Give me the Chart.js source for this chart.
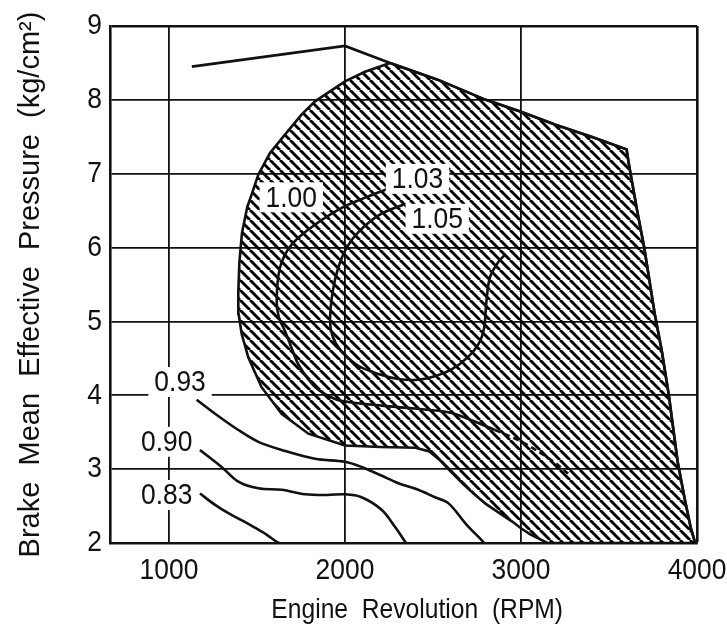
<!DOCTYPE html>
<html>
<head>
<meta charset="utf-8">
<script src="https://cdn.jsdelivr.net/npm/chart.js@4/dist/chart.umd.min.js"></script>
<style>
  html, body { margin: 0; padding: 0; background: #fff; }
  #c { display: block; }
</style>
</head>
<body>
<canvas id="c" width="727" height="630"></canvas>
<script>
// Axis ticks
const rpmTicks = [1000, 2000, 3000, 4000];
const bmepTicks = [2, 3, 4, 5, 6, 7, 8, 9];

// Full-load line [rpm, bmep]
const fullLoad = [[1130, 8.45], [2000, 8.73], [2256, 8.50], [2530, 8.27], [2800, 8.00], [3000, 7.84],
  [3200, 7.66], [3400, 7.50], [3600, 7.33], [3615, 7.10], [3660, 6.50], [3700, 6.00], [3760, 5.10],
  [3800, 4.60], [3840, 4.00], [3890, 3.10], [3930, 2.60], [3965, 2.20], [3990, 2.00]];

// Ratio contours [rpm, bmep]
const contour100 = [[2256, 8.50], [2114, 8.38], [2000, 8.25], [1830, 7.98], [1753, 7.80], [1659, 7.53],
  [1574, 7.28], [1508, 6.99], [1470, 6.72], [1445, 6.55], [1415, 6.20], [1400, 5.80], [1394, 5.40],
  [1396, 5.10], [1413, 4.83], [1451, 4.51], [1526, 4.11], [1640, 3.75], [1792, 3.48], [2000, 3.32],
  [2200, 3.30], [2400, 3.29], [2480, 3.24], [2540, 3.12], [2600, 2.97], [2670, 2.80], [2740, 2.65],
  [2800, 2.53], [2880, 2.40], [2950, 2.29], [3000, 2.20], [3050, 2.12], [3110, 2.05], [3150, 2.00]];
const contour103 = [[2236, 6.79], [2120, 6.68], [2000, 6.56], [1830, 6.31], [1697, 6.04], [1631, 5.73],
  [1612, 5.28], [1625, 5.05], [1659, 4.87], [1700, 4.62], [1735, 4.42], [1830, 4.11], [1943, 3.95],
  [2019, 3.91], [2208, 3.86], [2398, 3.82], [2587, 3.77], [2700, 3.68], [2852, 3.53], [3003, 3.37],
  [3174, 3.12], [3268, 2.94]];
const contour105 = [[2331, 6.58], [2200, 6.45], [2080, 6.22], [2010, 6.00], [1962, 5.73], [1930, 5.40],
  [1915, 5.00], [1930, 4.80], [1972, 4.62], [2076, 4.40], [2200, 4.28], [2303, 4.22], [2416, 4.21],
  [2500, 4.25], [2606, 4.35], [2700, 4.52], [2760, 4.70], [2790, 4.90], [2804, 5.28], [2824, 5.60],
  [2870, 5.80], [2912, 5.91]];
const contour093 = [[1157, 3.94], [1262, 3.75], [1394, 3.53], [1508, 3.37], [1640, 3.26], [1830, 3.14],
  [2000, 3.10], [2094, 3.03], [2200, 2.92], [2303, 2.81], [2416, 2.72], [2511, 2.62], [2587, 2.54],
  [2690, 2.25], [2776, 2.04], [2790, 2.00]];
const contour090 = [[1176, 3.26], [1299, 3.03], [1394, 2.83], [1508, 2.74], [1640, 2.72], [1773, 2.66],
  [1900, 2.65], [2000, 2.66], [2094, 2.62], [2208, 2.45], [2284, 2.22], [2341, 2.02], [2348, 2.00]];
const contour083 = [[1176, 2.67], [1260, 2.52], [1340, 2.40], [1420, 2.30], [1480, 2.22], [1550, 2.12],
  [1610, 2.02], [1625, 2.00]];

// Contour labels
const labelText = ['1.00', '1.03', '1.05', '0.93', '0.90', '0.83'];
const labelRpm = [1695, 2412, 2524, 1063, 987, 987];
const labelBmep = [6.68, 6.93, 6.39, 4.18, 3.37, 2.65];

// Narrow face: Liberation Sans squeezed horizontally; the vertical title keeps full width
const NARROW = "'Liberation Sans', sans-serif";
const WIDE = "'Liberation Sans', Arial, sans-serif";
const SQUEEZE = 0.88;
const INK = '#111';

const toXY = pts => pts.map(([x, y]) => ({x, y}));

// Region above ratio 1.00: full-load edge from the 1.00 contour's top, then back along the contour
const region = fullLoad.slice(2).concat(contour100.slice().reverse());

const canvas = document.getElementById('c');
const ctx = canvas.getContext('2d');

const rawFill = ctx.fillText;
const rawMeasure = ctx.measureText;
ctx.fillText = function (text, x, y, maxWidth) {
  if (this.font.includes('Arial')) return rawFill.call(this, text, x, y);
  this.save();
  this.translate(x, y);
  this.scale(SQUEEZE, 1);
  rawFill.call(this, text, 0, 0);
  this.restore();
};
ctx.measureText = function (text) {
  const m = rawMeasure.call(this, text);
  if (this.font.includes('Arial')) return m;
  return {
    width: m.width * SQUEEZE,
    actualBoundingBoxAscent: m.actualBoundingBoxAscent,
    actualBoundingBoxDescent: m.actualBoundingBoxDescent
  };
};

function hatch() {
  const s = 10;
  const tile = document.createElement('canvas');
  tile.width = s; tile.height = s;
  const g = tile.getContext('2d');
  g.strokeStyle = '#000';
  g.lineWidth = 2.9;
  for (const k of [-1, 0, 1]) {
    g.beginPath();
    g.moveTo(k * s, 0);
    g.lineTo(k * s + s, s);
    g.stroke();
  }
  return ctx.createPattern(tile, 'repeat');
}

const line = (pts, extra) => Object.assign({
  data: toXY(pts), showLine: true, borderColor: INK, borderWidth: 2.6,
  pointRadius: 0, tension: 0.35, fill: false
}, extra || {});

const contourLabels = {
  id: 'contourLabels',
  afterDatasetsDraw(chart) {
    const {ctx, scales: {x, y}} = chart;
    ctx.save();
    ctx.font = '30px ' + NARROW;
    ctx.textAlign = 'center';
    ctx.textBaseline = 'middle';
    labelText.forEach((t, i) => {
      const px = x.getPixelForValue(labelRpm[i]);
      const py = y.getPixelForValue(labelBmep[i]);
      const w = ctx.measureText(t).width + 12;
      const h = 30;
      ctx.fillStyle = '#fff';
      ctx.fillRect(px - w / 2, py - h / 2, w, h);
      ctx.fillStyle = INK;
      ctx.fillText(t, px, py + 1);
    });
    ctx.restore();
  }
};

Chart.defaults.color = INK;
Chart.defaults.font.family = NARROW;

new Chart(canvas, {
  type: 'scatter',
  data: {
    datasets: [
      line(fullLoad, {tension: 0, order: 1}),
      line(contour103, {order: 1, segment: {borderDash: c => c.p0.parsed.x >= 2852 ? [6, 4] : undefined}}),
      line(contour105, {order: 1}),
      line(contour093, {order: 1}),
      line(contour090, {order: 1}),
      line(contour083, {order: 1}),
      line(region, {tension: 0, fill: 'shape', backgroundColor: hatch(), order: 5})
    ]
  },
  options: {
    responsive: false,
    animation: false,
    layout: {padding: {left: 0, right: 30, top: 24, bottom: 0}},
    plugins: {legend: {display: false}, tooltip: {enabled: false}},
    scales: {
      x: {
        type: 'linear', min: 665, max: 4000,
        afterBuildTicks: s => { s.ticks = rpmTicks.map(v => ({value: v})); },
        afterFit: s => { s.height = 87; s.paddingLeft = 0; s.paddingRight = 0; },
        grid: {color: INK, lineWidth: c => c.tick && c.tick.value === 4000 ? 2.6 : 1.8, drawTicks: false},
        border: {display: true, color: INK, width: 2.6},
        ticks: {font: {size: 30}, padding: 10, maxRotation: 0, callback: v => String(v)},
        title: {display: true, text: '\u00a0\u00a0\u00a0\u00a0Engine  Revolution  (RPM)',
          font: {size: 28, lineHeight: 1}, padding: {top: 0, bottom: 6}}
      },
      y: {
        type: 'linear', min: 2, max: 9,
        afterBuildTicks: s => { s.ticks = bmepTicks.map(v => ({value: v})); },
        afterFit: s => { s.width = 110; },
        grid: {color: INK, lineWidth: c => c.tick && c.tick.value === 9 ? 2.6 : 1.8, drawTicks: false},
        border: {display: true, color: INK, width: 2.6},
        ticks: {font: {size: 30}, padding: 8, callback: v => String(v)},
        title: {display: true, text: 'Brake  Mean  Effective  Pressure  (kg/cm²)',
          font: {size: 29, lineHeight: 1, family: WIDE}, padding: {top: 16, bottom: 0}}
      }
    }
  },
  plugins: [contourLabels]
});
</script>
</body>
</html>
